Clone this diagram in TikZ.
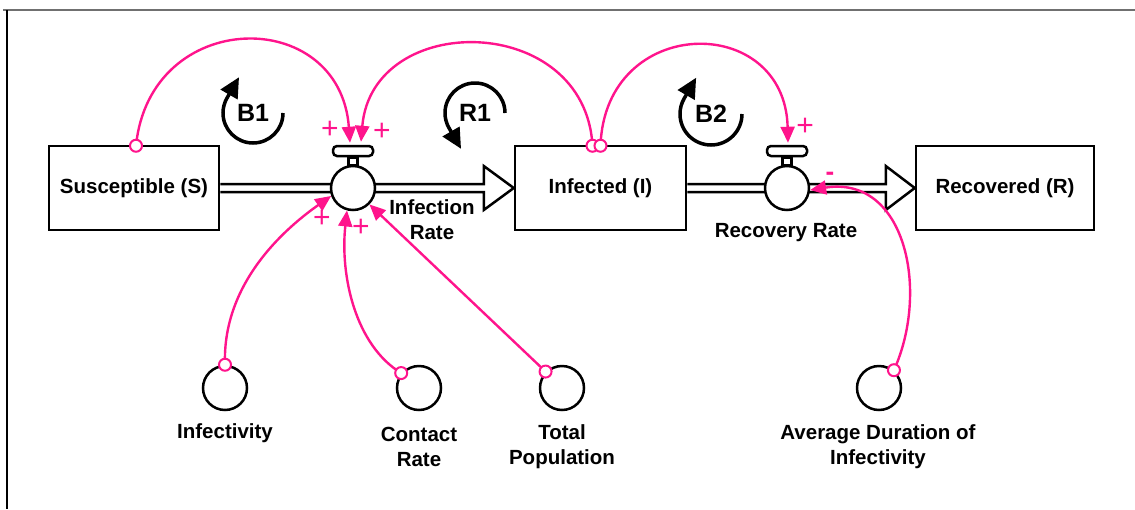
\documentclass[tikz,border=0pt]{standalone}
\usepackage{fontspec}
\setmainfont{Liberation Sans}
\usetikzlibrary{arrows.meta,calc}
\definecolor{linkpink}{RGB}{255,20,140}
\definecolor{framegray}{RGB}{112,112,112}
\begin{document}
\begin{tikzpicture}[x=1pt,y=-1pt,
  lbl/.style={font=\bfseries\fontsize{20.5}{25}\selectfont, align=center, inner sep=0pt},
  stock/.style={draw, line width=2.5pt, minimum height=84pt, inner sep=0pt, lbl},
  valve/.style={circle, draw, line width=2.5pt, fill=white, minimum size=44pt, inner sep=0pt},
  handle/.style={draw, line width=2.5pt, fill=white, rounded corners=4pt, minimum width=40pt, minimum height=10pt, inner sep=0pt},
  aux/.style={circle, draw, line width=2.5pt, minimum size=44pt, inner sep=0pt},
  pipe/.style={draw, line width=2.5pt, line join=miter, fill=white},
  link/.style={draw=linkpink, line width=2.4pt, -{Triangle[length=16pt,width=14pt]}},
  tail/.style={circle, draw=linkpink, line width=2pt, fill=white, minimum size=12pt, inner sep=0pt},
  sign/.style={text=linkpink, font=\fontsize{30}{30}\selectfont, inner sep=0pt},
  looparrow/.style={line width=3.5pt, -{Triangle[length=20pt,width=19pt]}},
  looplbl/.style={font=\bfseries\fontsize{25}{25}\selectfont, inner sep=0pt}
]
\useasboundingbox (0,0) rectangle (1135,509);

% frame
\draw[framegray, line width=2.5pt] (3,10) -- (1135,10);
\draw[black, line width=1.5pt] (7,10) -- (7,509);

% stocks
\node[stock, minimum width=170pt] (S) at (134,188) {Susceptible (S)};
\node[stock, minimum width=171pt] (I) at (600.5,188) {Infected (I)};
\node[stock, minimum width=178pt] (R) at (1005,188) {Recovered (R)};

% flow pipes with hollow arrow heads
\path[pipe] ($(S.east)+(0,-4)$) -- ($(I.west)+(-30,-4)$) -- ($(I.west)+(-30,-22)$)
  -- (I.west) -- ($(I.west)+(-30,22)$) -- ($(I.west)+(-30,4)$) -- ($(S.east)+(0,4)$);
\path[pipe] ($(I.east)+(0,-4)$) -- ($(R.west)+(-29,-4)$) -- ($(R.west)+(-29,-22)$)
  -- (R.west) -- ($(R.west)+(-29,22)$) -- ($(R.west)+(-29,4)$) -- ($(I.east)+(0,4)$);

% valves
\node[valve] (v1) at (353,188) {};
\node[handle] (h1) at (353,151) {};
\draw[line width=2.5pt, fill=white] ($(h1.south)+(-4.5,0)$) rectangle ($(v1.north)+(4.5,0)$);
\node[valve] (v2) at (787,188) {};
\node[handle] (h2) at (787,151) {};
\draw[line width=2.5pt, fill=white] ($(h2.south)+(-4.5,0)$) rectangle ($(v2.north)+(4.5,0)$);

\node[lbl] (irl) at (432,219.5) {Infection\\Rate};
\node[lbl] (rrl) at (786,233) {Recovery Rate};

% auxiliaries
\node[aux] (inf) at (225,388) {};
\node[aux] (cr) at (419,388) {};
\node[aux] (tp) at (562,388) {};
\node[aux] (adi) at (879,388) {};
\node[lbl] at (225,433) {Infectivity};
\node[lbl] at (419,446.5) {Contact\\Rate};
\node[lbl] at (562,446.5) {Total\\Population};
\node[lbl] at (878,446.5) {Average Duration of\\Infectivity};

% link end points
\coordinate (tS) at ($(S.north)+(2,1)$);
\coordinate (tI1) at ($(I.north)+(-8,1)$);
\coordinate (tI2) at ($(I.north)+(0,1)$);
\coordinate (e1) at ($(h1.north)+(-3,-2)$);
\coordinate (e2) at ($(h1.north)+(8,-3)$);
\coordinate (e3) at ($(h2.north)+(1,-2)$);

% links
\draw[link] (tS) .. controls (150,7) and (340,5) .. (e1);
\draw[link] (tI1) .. controls (585,12) and (372,10) .. (e2);
\draw[link] (tI2) .. controls (605,14) and (785,12) .. (e3);
\draw[link] (inf.north) .. controls (222,280) and (290,225) .. (v1.200);
\draw[link] (cr.140) .. controls (355,345) and (340,275) .. (v1.-105);
\draw[link] (tp.135) -- (v1.-45);
\draw[link] (adi.50) .. controls (930,290) and (905,175) .. (v2.-5);

% link tails
\node[tail] at (tS) {};
\node[tail] at (tI1) {};
\node[tail] at (tI2) {};
\node[tail] at (inf.north) {};
\node[tail] at (cr.140) {};
\node[tail] at (tp.135) {};
\node[tail] at (adi.50) {};

% polarities
\node[sign] at (330,130) {+};
\node[sign] at (382,132) {+};
\node[sign] at (805,127) {+};
\node[sign] at (322,219) {+};
\node[sign] at (361,228) {+};
\node[sign, font=\bfseries\fontsize{26}{26}\selectfont] at (830,176) {-};

% loop markers
\node[looplbl] (B1) at (253,113) {B1};
\draw[looparrow] ($(B1)+(30,0)$) arc[start angle=0, end angle=210, radius=30] -- ++(300:24);
\node[looplbl] (R1) at (475,113) {R1};
\draw[looparrow] ($(R1)+(30,0)$) arc[start angle=0, end angle=-210, radius=30] -- ++(60:24);
\node[looplbl] (B2) at (711,114) {B2};
\draw[looparrow] ($(B2)+(31,0)$) arc[start angle=0, end angle=210, radius=31] -- ++(300:24);
\end{tikzpicture}
\end{document}
